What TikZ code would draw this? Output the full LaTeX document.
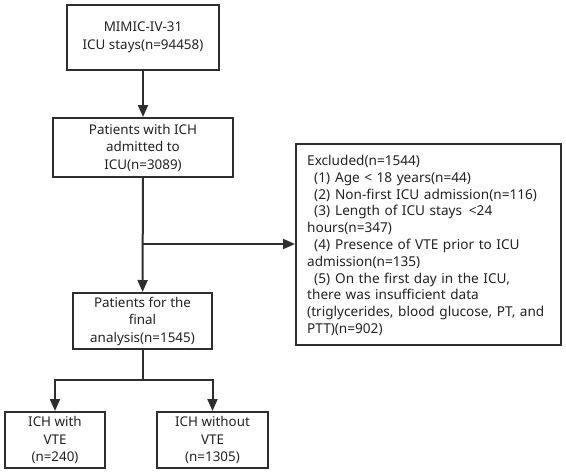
\documentclass[tikz,border=0pt]{standalone}
\usepackage{fontspec}
\setmainfont{Noto Sans}
\usetikzlibrary{arrows.meta,positioning}
\definecolor{ln}{HTML}{2E2E2E}
\definecolor{tx}{HTML}{222222}
\begin{document}
\begin{tikzpicture}[x=1pt,y=-1pt,
  box/.style={draw=ln,line width=2pt,rectangle,align=center,inner sep=0pt,
    font=\fontsize{13.4}{17.5}\selectfont,text=tx},
  conn/.style={draw=ln,line width=2pt},
  arr/.style={conn,-{Triangle[length=12pt,width=10pt]}}]
\useasboundingbox (0,0) rectangle (566,475);
\node[box,minimum width=152pt,minimum height=65pt] (b1) at (143,37.5) {MIMIC-IV-31\\ICU stays(n=94458)};
\node[box,minimum width=180pt,minimum height=59pt] (b2) at (143,147.5) {Patients with ICH\\admitted to\\ICU(n=3089)};
\node[box,minimum width=265pt,minimum height=201pt] (ex) at (428.5,244.5) {};
\node[align=left,anchor=north west,inner sep=0pt,font=\fontsize{13.6}{16.8}\selectfont,text=tx,text width=250pt] (extext) at (307,155)
 {Excluded(n=1544)\\
 \hspace*{7pt}(1)\hspace{5pt}Age < 18 years(n=44)\\
 \hspace*{7pt}(2)\hspace{5pt}Non-first ICU admission(n=116)\\
 \hspace*{7pt}(3)\hspace{5pt}Length of ICU stays \,<24\\
 hours(n=347)\\
 \hspace*{7pt}(4)\hspace{5pt}Presence of VTE prior to ICU\\
 admission(n=135)\\
 \hspace*{7pt}(5)\hspace{5pt}On the first day in the ICU,\\
 there was insufficient data\\
 (triglycerides, blood glucose, PT, and\\
 PTT)(n=902)};
\node[box,minimum width=139pt,minimum height=56pt] (b3) at (142.5,321) {Patients for the\\final\\analysis(n=1545)};
\node[box,minimum width=100pt,minimum height=56pt] (b4) at (55,440) {ICH with\\VTE\\(n=240)};
\node[box,minimum width=111pt,minimum height=56pt] (b5) at (212.5,440) {ICH without\\VTE\\(n=1305)};
\coordinate (j) at (143,244);
\coordinate (k) at (142.5,380);
\draw[arr] (b1) -- (b2);
\draw[arr] (b2) -- (b3);
\draw[arr] (j) -- (ex.west |- j);
\draw[conn] (b3.south) -- (k);
\draw[arr] (k) -| (b4.north);
\draw[arr] (k) -| (b5.north);
\end{tikzpicture}
\end{document}
